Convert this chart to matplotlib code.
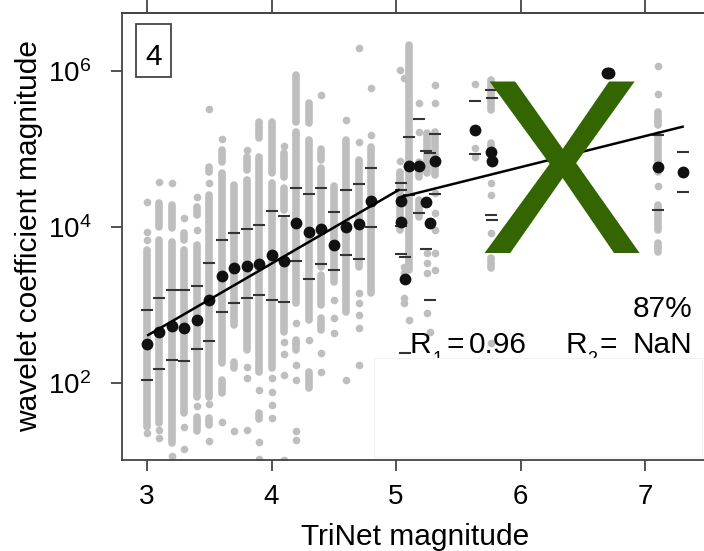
import numpy as np
import matplotlib
matplotlib.use('Agg')
import matplotlib.pyplot as plt
from matplotlib.patches import Rectangle
from matplotlib.ticker import NullLocator

plt.rcParams['font.family'] = ['Liberation Sans', 'DejaVu Sans']
plt.rcParams['mathtext.fontset'] = 'custom'
plt.rcParams['mathtext.rm'] = 'Liberation Sans'
plt.rcParams['mathtext.it'] = 'Liberation Sans:italic'

# binned events (magnitude bins), values are log10 of wavelet coefficient
bin_mag = [3.0, 3.1, 3.2, 3.3, 3.4, 3.5, 3.6, 3.7, 3.8, 3.9,
           4.0, 4.1, 4.2, 4.3, 4.4, 4.5, 4.6, 4.7, 4.8]
bin_median = [2.50, 2.65, 2.73, 2.70, 2.81, 3.07, 3.37, 3.47, 3.50, 3.53,
              3.64, 3.56, 4.05, 3.93, 3.98, 3.77, 4.00, 4.04, 4.34]
bin_upper = [2.94, 3.09, 3.19, 3.19, 3.24, 3.54, 3.83, 3.92, 3.98, 4.02,
             4.20, 4.14, 4.50, 4.42, 4.50, 4.19, 4.47, 4.55, 4.76]
bin_lower = [2.04, 2.18, 2.30, 2.28, 2.44, 2.54, 2.91, 3.03, 3.09, 3.13,
             3.07, 3.04, 3.56, 3.33, 3.53, 3.45, 3.64, 3.59, 4.00]

# single large events
event_mag = [5.04, 5.04, 5.07, 5.10, 5.18, 5.24, 5.27, 5.31, 5.63,
             5.76, 5.77, 6.69, 6.71, 7.10, 7.30]
event_median = [4.34, 4.06, 3.33, 4.78, 4.78, 4.32, 4.05, 4.85, 5.25,
                4.96, 4.85, 5.97, 5.97, 4.77, 4.70]
event_upper = [4.57, 4.47, 3.62, 5.15, 5.39, 4.98, 4.95, 5.19, 5.62,
               5.76, 5.66, np.nan, np.nan, 5.18, 4.96]
event_lower = [4.01, 3.65, 2.38, 4.41, 4.18, 3.72, 3.07, 4.42, 4.94,
               4.16, 4.09, np.nan, np.nan, 4.22, 4.45]

# individual station values (gray): dense runs as (lo, hi), plus loose points
gray_mag = bin_mag + [5.03, 5.06, 5.10, 5.18, 5.25, 5.27, 5.31, 5.63, 5.76, 7.10]
gray_runs = [
    [(1.44, 3.71)],
    [(4.00, 4.31), (1.49, 3.83)],
    [(3.99, 4.28), (1.23, 3.81)],
    [(3.83, 3.92), (1.62, 3.71)],
    [(4.15, 4.26), (1.82, 3.77), (1.38, 1.57)],
    [(4.71, 4.77), (1.82, 4.41), (1.46, 1.55)],
    [(4.84, 4.99), (2.26, 4.69), (1.87, 2.04)],
    [(2.74, 4.54), (2.19, 2.27)],
    [(4.73, 4.90), (2.42, 4.60)],
    [(5.14, 5.35), (2.14, 4.90), (1.54, 1.62)],
    [(4.69, 5.35), (2.19, 4.56)],
    [(4.64, 4.95), (4.22, 4.50), (2.65, 4.09)],
    [(5.35, 5.95), (3.03, 5.22), (2.42, 2.55)],
    [(5.33, 5.59), (2.81, 5.12), (1.93, 2.14)],
    [(4.86, 5.00), (3.49, 4.76), (3.00, 3.38), (2.68, 2.83)],
    [(3.29, 4.53)],
    [(2.91, 5.12)],
    [(3.49, 4.86)],
    [(3.15, 5.03)],
    [(3.96, 4.70)],
    [],
    [(3.45, 6.33)],
    [(4.64, 4.83), (4.13, 4.35)],
    [(4.69, 5.21)],
    [],
    [(4.67, 5.22)],
    [],
    [(5.50, 5.88), (4.99, 5.08), (3.47, 3.60)],
    [(5.31, 5.48), (4.71, 5.18), (3.96, 4.28), (3.68, 3.79)],
]
gray_points = [
    [4.32, 3.94, 3.83, 1.36],
    [4.58, 1.40, 1.29],
    [4.57, 1.06],
    [4.11, 1.44, 1.15],
    [4.39, 3.96, 1.70],
    [5.51, 4.56, 1.73, 1.26],
    [5.13, 1.50],
    [1.38],
    [4.99, 2.21, 2.07, 1.40],
    [1.91, 1.25, 1.03],
    [2.07, 1.88, 1.72, 1.55],
    [5.04, 2.53, 2.37, 2.10, 1.01],
    [2.77, 2.23, 2.04, 1.38, 1.27],
    [2.55],
    [5.69, 2.38, 2.14],
    [3.06, 2.83, 2.64],
    [5.37, 2.04],
    [6.29, 5.09, 3.15, 3.03, 2.87, 2.71, 2.23],
    [5.78, 5.18],
    [6.01, 4.85],
    [5.91, 3.49, 3.41, 3.09, 3.03],
    [2.81],
    [5.59, 5.22],
    [3.67, 3.54, 3.41, 2.90],
    [2.66],
    [5.82, 5.59, 4.44, 4.18, 3.96, 3.67, 3.45],
    [5.84, 5.01, 4.90],
    [4.56, 4.41, 3.92, 2.51],
    [6.06, 5.71, 4.52],
]

# two-segment fit
fit1_mag = [3.01, 5.02]
fit1_log = [2.615, 4.474]
fit2_mag = [5.05, 7.30]
fit2_log = [4.389, 5.286]

W, H = 704, 551
GRAY = '#bebebe'
AXC = '#444444'


def fpos(x, y):
    return x / W, 1 - y / H


fig = plt.figure(figsize=(W / 100, H / 100), dpi=100)
ax = fig.add_axes([122 / W, 1 - 460 / H, 598 / W, 447 / H])

for m, runs, pts in zip(gray_mag, gray_runs, gray_points):
    for lo, hi in runs:
        ax.vlines(m, 10 ** lo, 10 ** hi, colors=GRAY, linewidth=5.5,
                  capstyle='round', zorder=1)
    if pts:
        ax.plot([m] * len(pts), 10 ** np.array(pts), 'o', ms=5.5,
                color=GRAY, mec='none', zorder=1)

all_mag = bin_mag + event_mag
all_up = np.array(bin_upper + event_upper)
all_lo = np.array(bin_lower + event_lower)
all_med = np.array(bin_median + event_median)
ax.plot(all_mag, 10 ** all_up, '_', ms=8, mew=1.5, color='#333333', zorder=2)
ax.plot(all_mag, 10 ** all_lo, '_', ms=8, mew=1.5, color='#333333', zorder=2)
ax.plot(all_mag, 10 ** all_med, 'o', ms=8.5, color='#111111', mec='none', zorder=3)

ax.plot(fit1_mag, 10 ** np.array(fit1_log), color='black', lw=1.8, zorder=4)
ax.plot(fit2_mag, 10 ** np.array(fit2_log), color='black', lw=1.8, zorder=4)

ax.set_xlim(2.8, 7.6)
ax.set_yscale('log')
ax.set_ylim(10 ** 1.013, 10 ** 6.744)
ax.set_xticks([3, 4, 5, 6, 7])
ax.set_yticks([1e2, 1e4, 1e6])
ax.set_yticklabels(['$10^2$', '$10^4$', '$10^6$'])
ax.yaxis.set_minor_locator(NullLocator())
ax.tick_params(axis='x', length=8, width=1.3, color=AXC, labelsize=20, pad=9)
ax.tick_params(axis='y', length=8, width=1.3, color=AXC, labelsize=20, pad=14)
for s in ax.spines.values():
    s.set_color(AXC)
    s.set_linewidth(1.3)

top = ax.secondary_xaxis('top')
top.set_xticks([3, 4, 5, 6, 7])
top.tick_params(length=11, width=1.3, color=AXC, labeltop=False)
top.spines['top'].set_color(AXC)
top.spines['top'].set_linewidth(1.3)

# white panel that hides the lower right corner (and most of the subscripts)
ax.add_patch(Rectangle(((374 - 122) / 598, (460 - 457) / 447),
                       (702 - 374) / 598, (457 - 358) / 447,
                       transform=ax.transAxes, facecolor='white',
                       edgecolor='#f2f2f2', lw=0.8, zorder=6))

stats = [(410, 432.5, 455, 527, '1', '0.96'),
         (565, 587.5, 608, 692, '2', 'NaN')]
for x_r, x_sub, x_eq, x_val, sub, val in stats:
    kw = dict(va='baseline', transform=fig.transFigure, zorder=5)
    ax.text(*fpos(x_r, 353), 'R', fontsize=21.5, ha='left', **kw)
    ax.text(*fpos(x_sub, 364), sub, fontsize=13, ha='left', **kw)
    ax.text(*fpos(x_eq, 353), '=', fontsize=21.5, ha='center', **kw)
    ax.text(*fpos(x_val, 353), val, fontsize=21.5, ha='right', **kw)
ax.text(*fpos(692, 317), '87%', fontsize=21.5, ha='right', va='baseline',
        transform=fig.transFigure, zorder=7)

fig.add_artist(Rectangle(fpos(136, 77), 35 / W, 53 / H, transform=fig.transFigure,
                         facecolor='white', edgecolor=AXC, lw=1.3))
fig.text(*fpos(153.5, 65), '4', fontsize=21.5, ha='center', va='baseline')

fig.text(*fpos(415, 545), 'TriNet magnitude', fontsize=21.5, ha='center',
         va='baseline')
fig.text(*fpos(29, 235.5), 'wavelet coefficient magnitude', fontsize=21.5,
         rotation=90, ha='center', va='center')

fig.text(*fpos(561.5, 253), 'X', fontsize=179, color='#336600', ha='center',
         va='baseline', zorder=10)

fig.savefig('out.png', dpi=100)
